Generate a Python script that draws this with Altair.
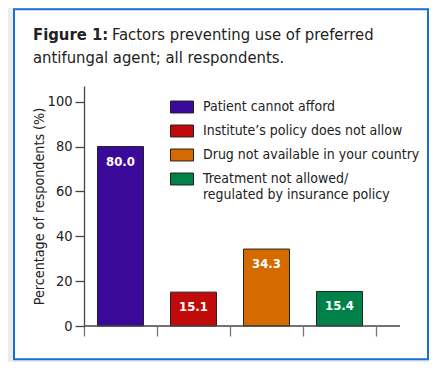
import altair as alt
import pandas as pd

categories = [
    "Patient cannot afford",
    "Institute\u2019s policy does not allow",
    "Drug not available in your country",
    "Treatment not allowed/\nregulated by insurance policy",
]
values = [80.0, 15.1, 34.3, 15.4]
value_labels = ["80.0", "15.1", "34.3", "15.4"]
colors = ["#3c0a9b", "#c10b0b", "#d56a00", "#00814a"]
y_ticks = [0, 20, 40, 60, 80, 100]
title_bold = ["Figure 1:"]
title_line1 = ["Factors preventing use of preferred"]
title_line2 = ["antifungal agent; all respondents."]
y_title = "Percentage of respondents (%)"

FONT = "DejaVu Sans Condensed, Liberation Sans Narrow, sans-serif"
INK = "#222222"
W, H = 292, 240

df = pd.DataFrame({"cat": categories, "val": values, "lab": value_labels})
one = pd.DataFrame({"d": [0]})

xscale = alt.Scale(domain=categories, paddingInner=0, paddingOuter=0)
yscale = alt.Scale(domain=[0, 107], nice=False)

box = alt.Chart(one).mark_rect(fill="white", stroke="#1b6fce", strokeWidth=2).encode(
    x=alt.value(-70), x2=alt.value(344), y=alt.value(-76.7), y2=alt.value(273.3)
)

bars = alt.Chart(df).mark_bar(width=alt.RelativeBandSize(0.63), stroke=INK, strokeWidth=1).encode(
    x=alt.X("cat:N", sort=categories, scale=xscale,
            axis=alt.Axis(labels=False, title=None, domain=False, tickBand="extent",
                          tickSize=10, tickColor="#777777", tickWidth=1.3, zindex=1)),
    y=alt.Y("val:Q", scale=yscale,
            axis=alt.Axis(values=y_ticks, title=y_title, grid=False, domainColor="#444444",
                          domainWidth=1.3, tickColor="#444444", tickWidth=1.3, tickSize=9,
                          labelFont=FONT, labelFontSize=14.5, labelColor=INK, labelPadding=3,
                          titleFont=FONT, titleFontSize=14.2, titleFontWeight="normal",
                          titleColor=INK, titlePadding=1, zindex=1)),
    color=alt.Color("cat:N", scale=alt.Scale(domain=categories, range=colors),
                    legend=alt.Legend(orient="none", legendX=86, legendY=9, title=None,
                                      symbolType="M-1,-0.52H1V0.52H-1Z", symbolSize=529,
                                      symbolStrokeColor=INK, symbolStrokeWidth=1,
                                      symbolOpacity=1, labelFont=FONT, labelFontSize=14,
                                      labelColor=INK, labelOffset=9, labelLimit=0,
                                      rowPadding=4, padding=0,
                                      labelExpr="split(datum.label, '\\n')")),
)

texts = alt.Chart(df).mark_text(color="white", fontWeight="bold", font=FONT, fontSize=13,
                                baseline="middle", dy=15).encode(
    x=alt.X("cat:N", sort=categories), y=alt.Y("val:Q"), text="lab:N"
)

xline = alt.Chart(one).mark_rule(color="#444444", strokeWidth=1.3).encode(
    x=alt.value(0), x2=alt.value(316), y=alt.value(H)
)

t_bold = alt.Chart(pd.DataFrame({"t": title_bold})).mark_text(
    align="left", baseline="alphabetic", font=FONT, fontSize=16.5, fontWeight="bold", color=INK
).encode(x=alt.value(-51), y=alt.value(-45.7), text="t:N")
t_l1 = alt.Chart(pd.DataFrame({"t": title_line1})).mark_text(
    align="left", baseline="alphabetic", font=FONT, fontSize=16.5, color=INK
).encode(x=alt.value(28), y=alt.value(-45.7), text="t:N")
t_l2 = alt.Chart(pd.DataFrame({"t": title_line2})).mark_text(
    align="left", baseline="alphabetic", font=FONT, fontSize=16.5, color=INK
).encode(x=alt.value(-51), y=alt.value(-22.7), text="t:N")

chart = alt.layer(box, bars, texts, xline, t_bold, t_l1, t_l2).properties(
    width=W, height=H,
    padding={"left": 76, "top": 78, "right": 53, "bottom": 36},
    autosize=alt.AutoSizeParams(type="none"),
    background="#ececec",
).configure_view(stroke=None)

chart.save("out.html", embed_options={"renderer": "svg", "actions": False})
